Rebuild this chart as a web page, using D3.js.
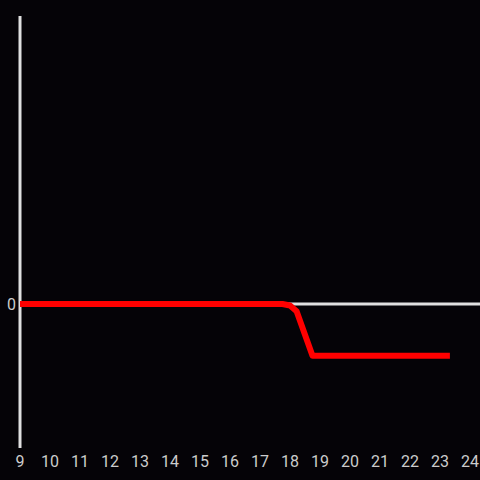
<!DOCTYPE html>
<html>
<head>
<meta charset="utf-8">
<script src="https://cdn.jsdelivr.net/npm/d3@7"></script>
<style>
  body { margin: 0; background: #050307; }
  svg { display: block; }
</style>
</head>
<body>
<svg id="chart" width="480" height="480"></svg>
<script>
// hours of day on the x axis
const hours = [9, 10, 11, 12, 13, 14, 15, 16, 17, 18, 19, 20, 21, 22, 23, 24];
const yTicks = [0];

// series
const times = [9, 17.75, 18, 18.22, 18.75, 23.33];
const values = [0, 0, -0.01, -0.05, -0.36, -0.36];

const width = 480, height = 480;
const margin = { top: 16, right: 10, bottom: 32, left: 20 };

const svg = d3.select("#chart");

const x = d3.scaleLinear()
  .domain([9, 24])
  .range([margin.left, width - margin.right]);

const y = d3.scaleLinear()
  .domain([-1, 2])
  .range([height - margin.bottom, margin.top]);

svg.append("rect")
  .attr("width", width)
  .attr("height", height)
  .attr("fill", "#050307");

// zero line
svg.append("line")
  .attr("x1", x(9))
  .attr("x2", width)
  .attr("y1", y(0))
  .attr("y2", y(0))
  .attr("stroke", "#e0e0e0")
  .attr("stroke-width", 3);

// vertical axis
svg.append("line")
  .attr("x1", x(9))
  .attr("x2", x(9))
  .attr("y1", y(2))
  .attr("y2", y(-1))
  .attr("stroke", "#e0e0e0")
  .attr("stroke-width", 3);

svg.append("g")
  .selectAll("text")
  .data(yTicks)
  .join("text")
  .attr("x", x(9) - 4)
  .attr("y", (d) => y(d))
  .attr("dy", "0.35em")
  .attr("text-anchor", "end")
  .attr("fill", "#cccccc")
  .style("font", "16px Roboto, sans-serif")
  .text((d) => d);

svg.append("g")
  .selectAll("text")
  .data(hours)
  .join("text")
  .attr("x", (d) => x(d))
  .attr("y", 461)
  .attr("dy", "0.35em")
  .attr("text-anchor", "middle")
  .attr("fill", "#cccccc")
  .style("font", "16px Roboto, sans-serif")
  .text((d) => d);

const line = d3.line()
  .x((d, i) => x(times[i]))
  .y((d) => y(d));

svg.append("path")
  .datum(values)
  .attr("d", line)
  .attr("fill", "none")
  .attr("stroke", "#ff0000")
  .attr("stroke-width", 6)
  .attr("stroke-linejoin", "round");
</script>
</body>
</html>
